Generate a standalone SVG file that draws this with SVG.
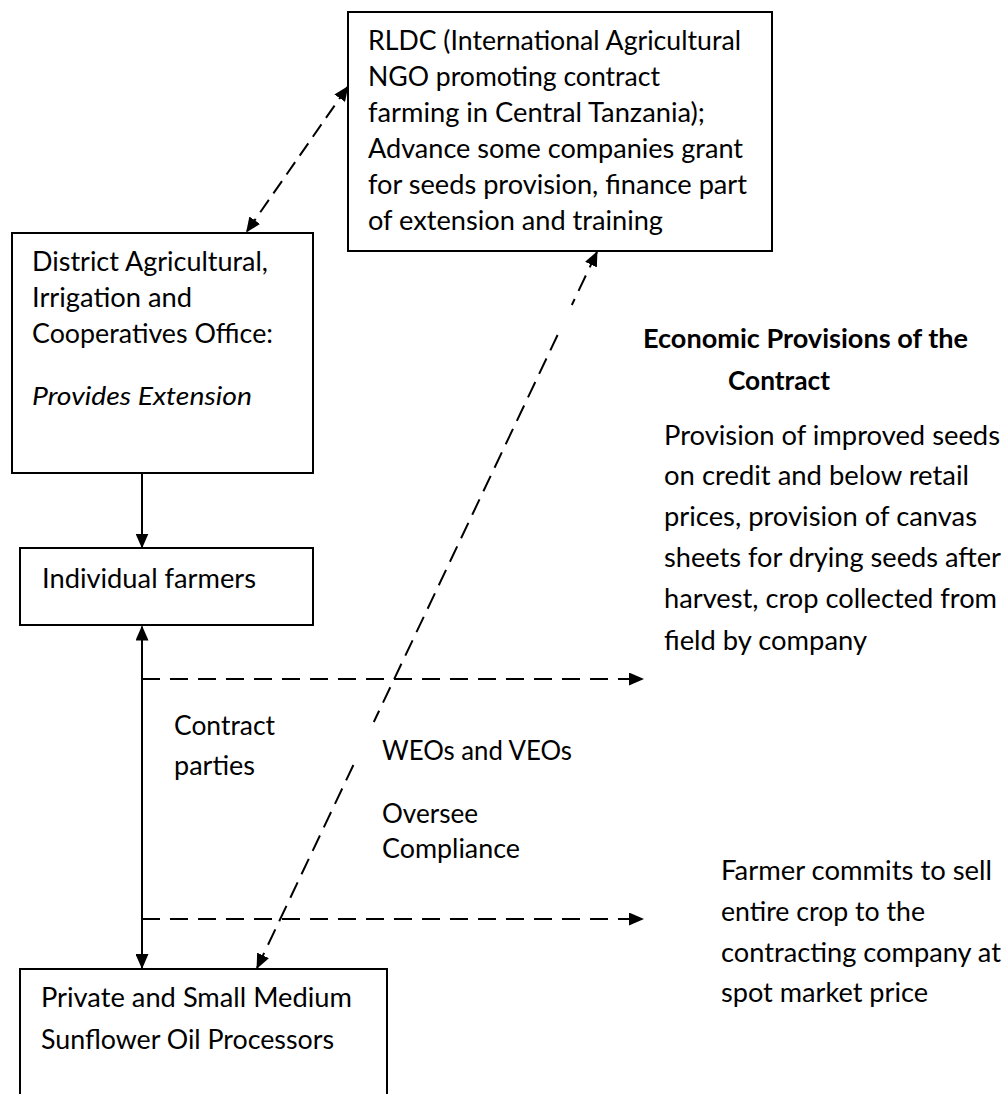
<svg xmlns="http://www.w3.org/2000/svg" width="1007" height="1094" viewBox="0 0 1007 1094">
<style>
  .box { fill: #ffffff; stroke: #000000; stroke-width: 2; }
  text { font-family: "Lato", "Open Sans", sans-serif; font-size: 26px; fill: #000000; }
  .b { font-weight: bold; }
  .i { font-style: italic; }
  .solid { stroke: #000; stroke-width: 2; fill: none; }
  .dash { stroke: #000; stroke-width: 2; fill: none; stroke-dasharray: 18 10; }
  .dashd { stroke: #000; stroke-width: 2; fill: none; stroke-dasharray: 17 9; }
  .dasht { stroke: #000; stroke-width: 2; fill: none; stroke-dasharray: 15 8; }
</style>
<defs>
  <marker id="arr" viewBox="0 0 15 13" refX="14" refY="6.5" markerWidth="15" markerHeight="13" markerUnits="userSpaceOnUse" orient="auto-start-reverse">
    <path d="M0,0 L15,6.5 L0,13 z" fill="#000"/>
  </marker>
</defs>
<rect width="1007" height="1094" fill="#ffffff"/>

<g id="rldc">
  <rect class="box" x="348" y="12" width="424" height="239"/>
  <text x="368" y="50" textLength="373" lengthAdjust="spacingAndGlyphs">RLDC (International Agricultural</text>
  <text x="368" y="86" textLength="292" lengthAdjust="spacingAndGlyphs">NGO promoting contract</text>
  <text x="368" y="122" textLength="337" lengthAdjust="spacingAndGlyphs">farming in Central Tanzania);</text>
  <text x="368" y="158" textLength="375" lengthAdjust="spacingAndGlyphs">Advance some companies grant</text>
  <text x="368" y="194" textLength="379" lengthAdjust="spacingAndGlyphs">for seeds provision, finance part</text>
  <text x="368" y="229.5" textLength="295" lengthAdjust="spacingAndGlyphs">of extension and training</text>
</g>

<g id="district">
  <rect class="box" x="12" y="233" width="301" height="240"/>
  <text x="32" y="271" textLength="236" lengthAdjust="spacingAndGlyphs">District Agricultural,</text>
  <text x="32" y="307" textLength="160" lengthAdjust="spacingAndGlyphs">Irrigation and</text>
  <text x="32" y="343" textLength="241" lengthAdjust="spacingAndGlyphs">Cooperatives Office:</text>
  <text class="i" x="32" y="405" textLength="220" lengthAdjust="spacingAndGlyphs">Provides Extension</text>
</g>

<g id="farmers">
  <rect class="box" x="20" y="548" width="293" height="77"/>
  <text x="42" y="588" textLength="214" lengthAdjust="spacingAndGlyphs">Individual farmers</text>
</g>

<g id="processors">
  <rect class="box" x="20" y="969" width="367" height="140"/>
  <text x="41" y="1007" textLength="311" lengthAdjust="spacingAndGlyphs">Private and Small Medium</text>
  <text x="41" y="1049" textLength="293" lengthAdjust="spacingAndGlyphs">Sunflower Oil Processors</text>
</g>

<g id="economic-provisions">
  <text class="b" x="643" y="348" textLength="325" lengthAdjust="spacingAndGlyphs">Economic Provisions of the</text>
  <text class="b" x="728" y="390" textLength="102" lengthAdjust="spacingAndGlyphs">Contract</text>
  <text x="664" y="445" textLength="336" lengthAdjust="spacingAndGlyphs">Provision of improved seeds</text>
  <text x="664" y="485" textLength="305" lengthAdjust="spacingAndGlyphs">on credit and below retail</text>
  <text x="664" y="526" textLength="313" lengthAdjust="spacingAndGlyphs">prices, provision of canvas</text>
  <text x="664" y="567" textLength="337" lengthAdjust="spacingAndGlyphs">sheets for drying seeds after</text>
  <text x="664" y="608" textLength="333" lengthAdjust="spacingAndGlyphs">harvest, crop collected from</text>
  <text x="664" y="650" textLength="203" lengthAdjust="spacingAndGlyphs">field by company</text>
</g>

<g id="farmer-commitment">
  <text x="721" y="880" textLength="271" lengthAdjust="spacingAndGlyphs">Farmer commits to sell</text>
  <text x="721" y="921" textLength="204" lengthAdjust="spacingAndGlyphs">entire crop to the</text>
  <text x="721" y="962" textLength="280" lengthAdjust="spacingAndGlyphs">contracting company at</text>
  <text x="721" y="1002" textLength="207" lengthAdjust="spacingAndGlyphs">spot market price</text>
</g>

<g id="contract-parties">
  <text x="174" y="735" textLength="101" lengthAdjust="spacingAndGlyphs">Contract</text>
  <text x="174" y="775" textLength="81" lengthAdjust="spacingAndGlyphs">parties</text>
</g>

<g id="weos">
  <text x="382" y="760" textLength="190" lengthAdjust="spacingAndGlyphs">WEOs and VEOs</text>
  <text x="382" y="823" textLength="96" lengthAdjust="spacingAndGlyphs">Oversee</text>
  <text x="382" y="858" textLength="138" lengthAdjust="spacingAndGlyphs">Compliance</text>
</g>

<g id="connectors">
  <line class="dasht" x1="347.7" y1="86.7" x2="246.7" y2="231.7" marker-start="url(#arr)" marker-end="url(#arr)"/>
  <line class="solid" x1="142" y1="473" x2="142" y2="547.5" marker-end="url(#arr)"/>
  <line class="solid" x1="142" y1="626.5" x2="142" y2="968" marker-start="url(#arr)" marker-end="url(#arr)"/>
  <line class="dash" x1="142" y1="679" x2="643" y2="679" marker-end="url(#arr)"/>
  <line class="dash" x1="142" y1="919" x2="643" y2="919" marker-end="url(#arr)"/>
  <line class="dashd" x1="597" y1="252" x2="571.8" y2="305" marker-start="url(#arr)"/>
  <line class="dashd" x1="557.6" y1="335" x2="373.8" y2="722"/>
  <line class="dashd" x1="353.4" y1="765" x2="257" y2="968" marker-end="url(#arr)"/>
</g>
</svg>
